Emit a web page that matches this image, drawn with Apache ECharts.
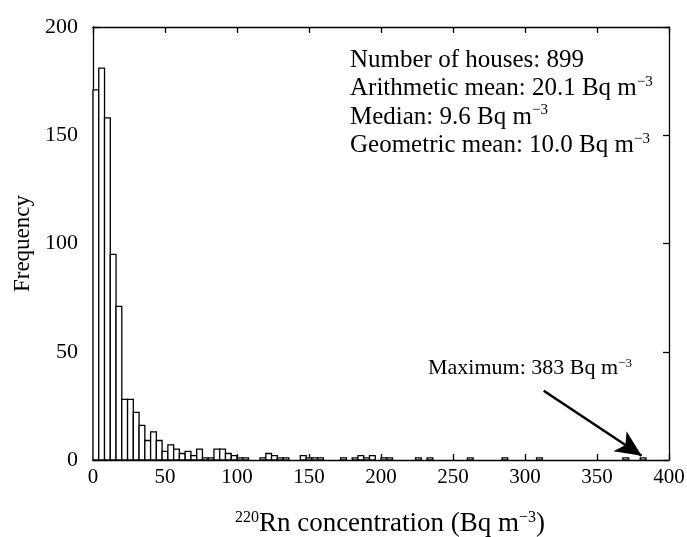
<!DOCTYPE html>
<html>
<head>
<meta charset="utf-8">
<script src="https://cdn.jsdelivr.net/npm/echarts@6/dist/echarts.min.js"></script>
<style>
  html, body { margin: 0; padding: 0; background: #fff; }
  #main { width: 687px; height: 537px; }
</style>
</head>
<body>
<div id="main"></div>
<script>
// histogram of 220Rn concentration, bins of 4 Bq m-3 from 0 to 400
var binWidth = 4;
var counts = [
  171, 181, 158, 95, 71, 28, 28, 22, 16, 9,
  13, 9, 4, 7, 5, 3, 4, 2, 5, 1,
  1, 5, 5, 3, 2, 1, 1, 0, 0, 1,
  3, 2, 1, 1, 0, 0, 2, 1, 1, 1,
  0, 0, 0, 1, 0, 1, 2, 1, 2, 0,
  1, 1, 0, 0, 0, 0, 1, 0, 1, 0,
  0, 0, 0, 0, 0, 1, 0, 0, 0, 0,
  0, 1, 0, 0, 0, 0, 0, 1, 0, 0,
  0, 0, 0, 0, 0, 0, 0, 0, 0, 0,
  0, 0, 1, 0, 0, 1, 0, 0, 0, 0
];
var xTicks = [0, 50, 100, 150, 200, 250, 300, 350, 400];
var statLines = [
  'Number of houses: 899',
  'Arithmetic mean: 20.1 Bq m{sup|−3}',
  'Median: 9.6 Bq m{sup|−3}',
  'Geometric mean: 10.0 Bq m{sup|−3}'
];
var maxArrow = [[313, 32], [381, 2]];

var serif = '"Liberation Serif", "DejaVu Serif", serif';

var histData = [];
for (var i = 0; i < counts.length; i++) {
  if (counts[i] > 0) {
    histData.push([i * binWidth, (i + 1) * binWidth, counts[i]]);
  }
}

var myChart = echarts.init(document.getElementById('main'));

function axisStyle() {
  return {
    axisLine: { show: true, onZero: false, lineStyle: { color: '#000', width: 1.3 } },
    axisTick: { show: true, inside: true, length: 6, lineStyle: { color: '#000', width: 1.3 } },
    splitLine: { show: false }
  };
}

option = {
  backgroundColor: '#fff',
  animation: false,
  grid: { left: 93, right: 18, top: 27, bottom: 77, outerBoundsMode: 'none', containLabel: false },
  xAxis: [
    Object.assign({
      type: 'value', min: 0, max: 400, interval: 50, position: 'bottom',
      name: '{sup|220}Rn concentration (Bq m{sup|−3})',
      nameLocation: 'middle', nameGap: 50,
      nameTextStyle: {
        fontFamily: serif, fontSize: 27, color: '#000', padding: [0, 0, 0, 18],
        rich: { sup: { fontFamily: serif, fontSize: 16, verticalAlign: 'top', color: '#000', padding: [0, 0, 9, 0] } }
      },
      axisLabel: {
        fontFamily: serif, fontSize: 21, color: '#000', margin: 7,
        customValues: xTicks
      }
    }, axisStyle()),
    Object.assign({
      type: 'value', min: 0, max: 400, interval: 50, position: 'top',
      axisLabel: { show: false }
    }, axisStyle())
  ],
  yAxis: [
    Object.assign({
      type: 'value', min: 0, max: 200, interval: 50, position: 'left',
      name: 'Frequency', nameLocation: 'middle', nameGap: 49,
      nameTextStyle: { fontFamily: serif, fontSize: 23, color: '#000' },
      axisLabel: { fontFamily: serif, fontSize: 22, color: '#000', margin: 15 }
    }, axisStyle()),
    Object.assign({
      type: 'value', min: 0, max: 200, interval: 50, position: 'right',
      axisLabel: { show: false }
    }, axisStyle())
  ],
  graphic: [
    {
      type: 'text', left: 350, top: 46,
      style: {
        text: statLines.join('\n'),
        fontFamily: serif, fontSize: 25, lineHeight: 28.5, fill: '#000',
        rich: {
          sup: { fontFamily: serif, fontSize: 15, verticalAlign: 'top', lineHeight: 22, fill: '#000' }
        }
      }
    },
    {
      type: 'text', left: 428, top: 357,
      style: {
        text: 'Maximum: 383 Bq m{sup|−3}',
        fontFamily: serif, fontSize: 22, fill: '#000',
        rich: {
          sup: { fontFamily: serif, fontSize: 13, verticalAlign: 'top', lineHeight: 16, fill: '#000' }
        }
      }
    }
  ],
  series: [
    {
      type: 'custom',
      xAxisIndex: 0, yAxisIndex: 0,
      data: histData,
      encode: { x: [0, 1], y: 2 },
      renderItem: function(params, api) {
        var p0 = api.coord([api.value(0), api.value(2)]);
        var p1 = api.coord([api.value(1), 0]);
        return {
          type: 'rect',
          shape: { x: p0[0], y: p0[1], width: p1[0] - p0[0], height: p1[1] - p0[1] },
          style: { fill: '#fff', stroke: '#000', lineWidth: 1.3 }
        };
      }
    },
    {
      type: 'scatter',
      data: [],
      markLine: {
        silent: true,
        symbol: ['none', 'arrow'],
        symbolSize: [18, 26],
        label: { show: false },
        lineStyle: { color: '#000', width: 2.5, type: 'solid' },
        data: [[{ coord: maxArrow[0] }, { coord: maxArrow[1] }]]
      }
    }
  ]
};

myChart.setOption(option);
</script>
</body>
</html>
